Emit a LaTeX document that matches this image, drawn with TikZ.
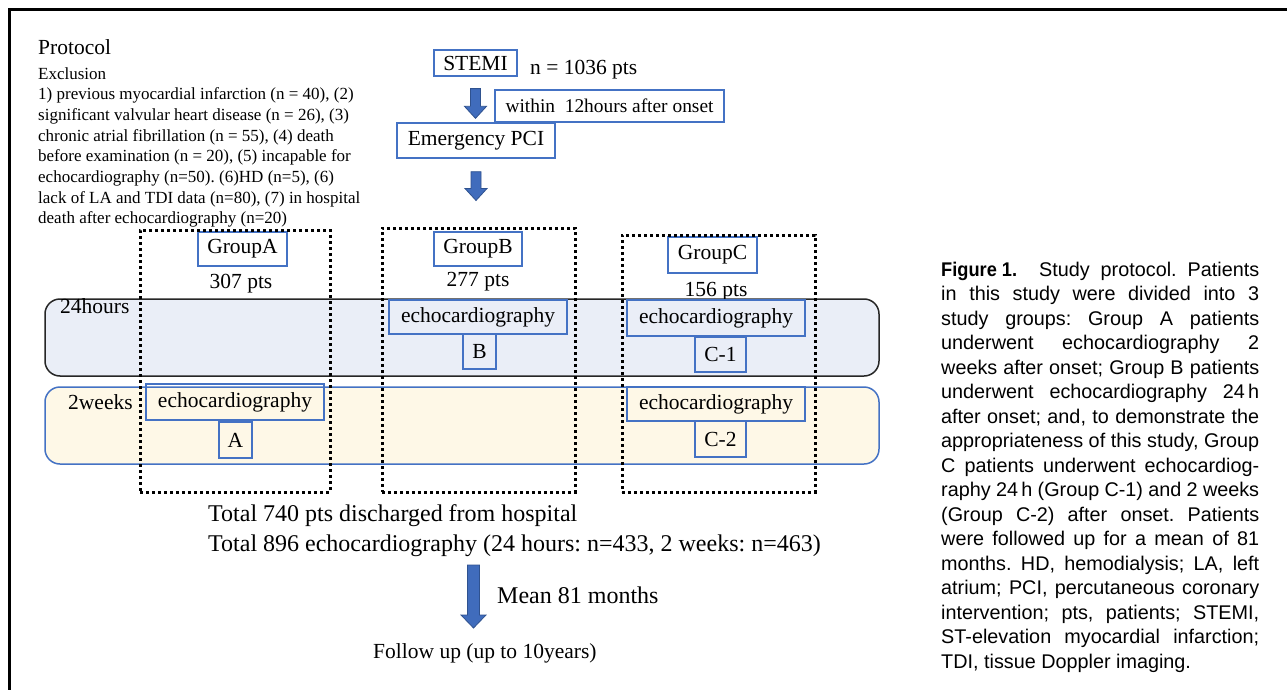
\documentclass[tikz,border=0pt]{standalone}
\usepackage{fontspec}
\setmainfont{Liberation Serif}
\newfontfamily\capfont{Liberation Sans}
\usetikzlibrary{calc}
\definecolor{boxblue}{RGB}{68,114,196}
\definecolor{arrowblue}{RGB}{64,108,188}
\definecolor{arrowedge}{RGB}{47,82,143}
\definecolor{bandblue}{RGB}{234,238,247}
\definecolor{bandcream}{RGB}{254,248,231}
\newcommand\setfs[1]{\fontsize{#1pt}{#1pt}\selectfont}
\newcommand\blockarrow[5]{%
  \path[barrow] let \p1=#1, \p2=#2 in
  (\x1-#3pt,\y1) -- (\x1+#3pt,\y1) -- (\x1+#3pt,\y2+#5pt) -- (\x1+#4pt,\y2+#5pt)
  -- (\x1,\y2) -- (\x1-#4pt,\y2+#5pt) -- (\x1-#3pt,\y2+#5pt) -- cycle;}
\newcommand\capl[2]{\node[capt] (cap#1) at (941,{276+24.5*#1}) {\makebox[318pt][s]{#2}};}
\frenchspacing
\begin{document}
\frenchspacing
\begin{tikzpicture}[x=1pt,y=-1pt,
  bbox/.style={draw=boxblue, line width=1.3pt, inner sep=0pt, font=\setfs{21.5}},
  dotbox/.style={draw=black, line width=3pt, dash pattern=on 3pt off 3pt, inner sep=0pt},
  band/.style={rounded corners=15pt, line width=1.5pt},
  txt/.style={inner sep=0pt, anchor=base west, font=\setfs{21.5}},
  excl/.style={inner sep=0pt, anchor=base west, font=\setfs{17}},
  bigtxt/.style={inner sep=0pt, anchor=base west, font=\setfs{24}},
  capt/.style={inner sep=0pt, anchor=base west, font=\capfont\setfs{19.8}},
  barrow/.style={fill=arrowblue, draw=arrowedge, line width=0.8pt, line join=miter}
]
\useasboundingbox (0,0) rectangle (1287,690);
\fill[white] (0,0) rectangle (1287,690);
% frame
\draw[line width=3pt] (9.5,690) -- (9.5,9.5) -- (1287,9.5);

% protocol text
\node[txt] (prot) at (38,55) {Protocol};
\node[excl] (exh) at (38,80) {Exclusion};
\node[excl] (ex1) at (38,100) {1) previous myocardial infarction (n = 40), (2)};
\node[excl] (ex2) at (38,120.6) {significant valvular heart disease (n = 26), (3)};
\node[excl] (ex3) at (38,141.2) {chronic atrial fibrillation (n = 55), (4) death};
\node[excl] (ex4) at (38,161.8) {before examination (n = 20), (5) incapable for};
\node[excl] (ex5) at (38,182.4) {echocardiography (n=50). (6)HD (n=5), (6)};
\node[excl] (ex6) at (38,203) {lack of LA and TDI data (n=80), (7) in hospital};
\node[excl] (ex7) at (38,223.6) {death after echocardiography (n=20)};

% top flow
\node[bbox, minimum width=83pt, minimum height=26pt] (stemi) at (475.5,63) {STEMI};
\node[txt] (ntot) at (530,75) {n = 1036 pts};
\node[bbox, minimum width=229pt, minimum height=32pt, font=\setfs{19.4}] (within) at (609.5,106) {within\ \ 12hours after onset};
\node[bbox, minimum width=158pt, minimum height=35pt] (pci) at (476,140.5) {Emergency PCI};

% bands
\draw[band, fill=bandblue, draw=black!85] (45,299) rectangle (879,376);
\draw[band, fill=bandcream, draw=boxblue] (45,387) rectangle (879,464);
\node[txt] (h24) at (60,313) {24hours};
\node[txt] (w2) at (68,409) {2weeks};

% group labels
\node[bbox, minimum width=89pt, minimum height=34pt] (gA) at (242.5,249) {GroupA};
\node[bbox, minimum width=88pt, minimum height=34pt] (gB) at (478,249) {GroupB};
\node[bbox, minimum width=89pt, minimum height=36pt] (gC) at (712.5,255) {GroupC};
\node[txt, anchor=base] (pA) at (241,288) {307 pts};
\node[txt, anchor=base] (pB) at (478,286) {277 pts};
\node[txt, anchor=base] (pC) at (716,296) {156 pts};

% echo boxes
\node[bbox, minimum width=178pt, minimum height=36pt] (eA) at (235,402) {echocardiography};
\node[bbox, minimum width=33pt, minimum height=36pt] (lA) at (235.5,440) {A};
\node[bbox, minimum width=178pt, minimum height=34pt] (eB) at (478,317) {echocardiography};
\node[bbox, minimum width=33pt, minimum height=35pt] (lB) at (479.5,351.5) {B};
\node[bbox, minimum width=178pt, minimum height=36pt] (eC1) at (716,318) {echocardiography};
\node[bbox, minimum width=51pt, minimum height=35pt] (lC1) at (720.5,354.5) {C-1};
\node[bbox, minimum width=178pt, minimum height=34pt] (eC2) at (716,404) {echocardiography};
\node[bbox, minimum width=51pt, minimum height=36pt] (lC2) at (720.5,439) {C-2};

% dotted group boxes
\node[dotbox, minimum width=190pt, minimum height=262pt] (dA) at (235,361) {};
\node[dotbox, minimum width=193pt, minimum height=264pt] (dB) at (478.5,360) {};
\node[dotbox, minimum width=193pt, minimum height=257pt] (dC) at (718.5,363.5) {};

% block arrows
\blockarrow{($(stemi.south)+(0,12)$)}{($(pci.north)+(0,-4)$)}{5}{11}{12}
\blockarrow{($(pci.south)+(0,13)$)}{($(dB.north)+(0,-26)$)}{5}{11}{12}

% bottom
\node[bigtxt] (tot1) at (208,521) {Total 740 pts discharged from hospital};
\node[bigtxt] (tot2) at (208,551) {Total 896 echocardiography (24 hours: n=433, 2 weeks: n=463)};
\coordinate (a3top) at (473.5,565);
\coordinate (a3tip) at (473.5,628);
\blockarrow{(a3top)}{(a3tip)}{6}{12.5}{13}
\node[bigtxt] (mean) at (497,603) {Mean 81 months};
\node[txt] (follow) at (373,658) {Follow up (up to 10years)};

% caption
\capl{0}{\textbf{\scalebox{0.92}[1]{Figure 1.}}\hspace{22pt}Study protocol. Patients}
\capl{1}{in this study were divided into 3}
\capl{2}{study groups: Group A patients}
\capl{3}{underwent echocardiography 2}
\capl{4}{weeks after onset; Group B patients}
\capl{5}{underwent echocardiography 24\,h}
\capl{6}{after onset; and, to demonstrate the}
\capl{7}{appropriateness of this study, Group}
\capl{8}{C patients underwent echocardiog-}
\capl{9}{raphy 24\,h (Group C-1) and 2 weeks}
\capl{10}{(Group C-2) after onset. Patients}
\capl{11}{were followed up for a mean of 81}
\capl{12}{months. HD, hemodialysis; LA, left}
\capl{13}{atrium; PCI, percutaneous coronary}
\capl{14}{intervention; pts, patients; STEMI,}
\capl{15}{ST-elevation myocardial infarction;}
\node[capt] (cap16) at (941,{276+24.5*16}) {TDI, tissue Doppler imaging.};
\end{tikzpicture}
\end{document}
